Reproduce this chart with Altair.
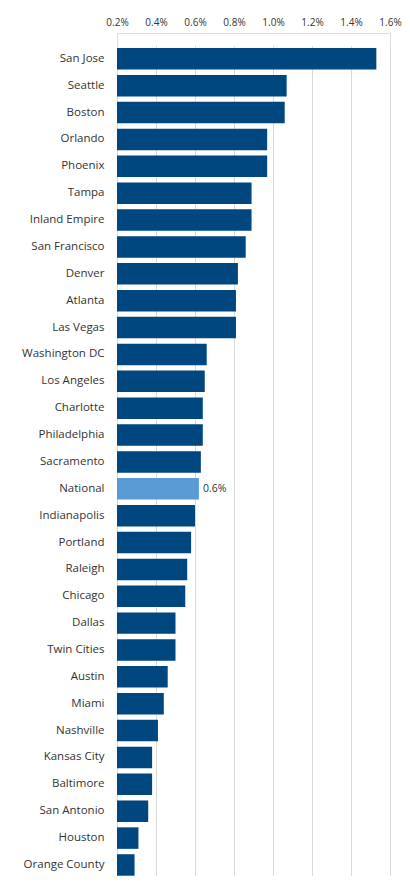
import altair as alt
import pandas as pd

cities = ["San Jose", "Seattle", "Boston", "Orlando", "Phoenix", "Tampa",
          "Inland Empire", "San Francisco", "Denver", "Atlanta", "Las Vegas",
          "Washington DC", "Los Angeles", "Charlotte", "Philadelphia",
          "Sacramento", "National", "Indianapolis", "Portland", "Raleigh",
          "Chicago", "Dallas", "Twin Cities", "Austin", "Miami", "Nashville",
          "Kansas City", "Baltimore", "San Antonio", "Houston", "Orange County"]
values_pct = [1.53, 1.07, 1.06, 0.97, 0.97, 0.89, 0.89, 0.86, 0.82, 0.81, 0.81,
              0.66, 0.65, 0.64, 0.64, 0.63, 0.62, 0.60, 0.58, 0.56, 0.55, 0.50,
              0.50, 0.46, 0.44, 0.41, 0.38, 0.38, 0.36, 0.31, 0.29]
tick_values_pct = [0.2, 0.4, 0.6, 0.8, 1.0, 1.2, 1.4, 1.6]
axis_min_pct = 0.2
highlight = "National"

df = pd.DataFrame({
    "city": cities,
    "value": [v / 100 for v in values_pct],
})
df["base"] = axis_min_pct / 100

FONT = "Open Sans"
DARK = "#00467f"
LIGHT = "#5b9bd5"
TXT = "#333333"

x_scale = alt.Scale(domain=[axis_min_pct / 100, tick_values_pct[-1] / 100],
                    nice=False, zero=False)
y_scale = alt.Scale(range=[12.4, 845.4], paddingInner=0.2, paddingOuter=0.1)

x_axis = alt.Axis(orient="top", values=[round(v / 100, 4) for v in tick_values_pct],
                  format=".1%", ticks=False, domain=False, grid=True,
                  gridColor="#d9d9d9", gridWidth=1, labelPadding=6,
                  labelOverlap=False, labelFlush=False, tickCount=8,
                  minExtent=25, maxExtent=25, labelFontSize=10,
                  labelFont=FONT, labelColor=TXT)
y_axis = alt.Axis(ticks=False, domain=False, labelPadding=13,
                  minExtent=109, maxExtent=109, labelFontSize=11.5,
                  labelOverlap=False, labelFont=FONT, labelColor=TXT)

x_enc = alt.X("value:Q", scale=x_scale, title=None, axis=x_axis)
y_enc = alt.Y("city:N", sort=None, scale=y_scale, title=None, axis=y_axis)

base = alt.Chart(df)

bars = base.mark_bar().encode(
    y=y_enc,
    x=x_enc,
    x2="base:Q",
    color=alt.condition(alt.datum.city == highlight, alt.value(LIGHT), alt.value(DARK)),
)

label = base.transform_filter(alt.datum.city == highlight).mark_text(
    align="left", baseline="middle", dx=4, font=FONT, fontSize=10.5, color=TXT
).encode(
    y=y_enc,
    x=x_enc,
    text=alt.Text("value:Q", format=".1%"),
)

chart = (bars + label).properties(
    width=273, height=843,
    padding={"left": 0, "top": 0, "right": 0, "bottom": 0},
).configure_view(stroke=None).configure(background="white")

chart.save("out.html", embed_options={"renderer": "svg", "actions": False})
